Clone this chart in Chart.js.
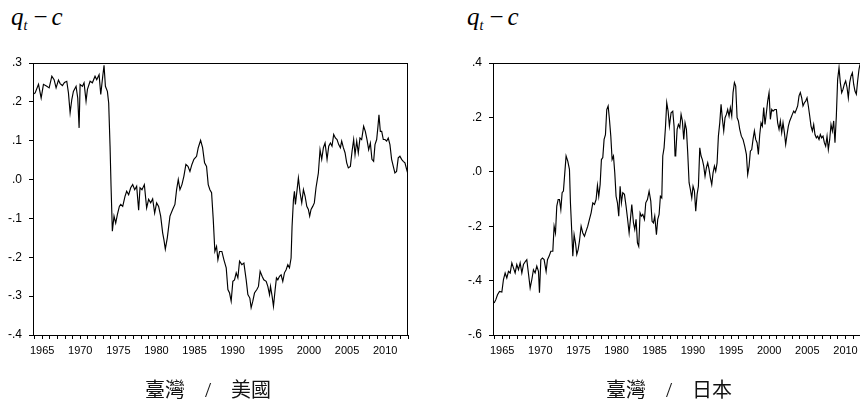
<!DOCTYPE html>
<html>
<head>
<meta charset="utf-8">
<script src="https://cdn.jsdelivr.net/npm/chart.js@4.4.0/dist/chart.umd.min.js"></script>
<style>
html, body { margin: 0; padding: 0; background: #fff; overflow: hidden; }
#wrap { position: relative; width: 860px; height: 403px; }
canvas { position: absolute; top: 0; }
.ttl { position: absolute; top: 4px; font: 25px "Liberation Serif", "Times New Roman", serif; line-height: 25px; white-space: nowrap; color: #000; }
.ttl i { font-style: italic; }
.ttl sub { font-size: 14px; vertical-align: -5px; line-height: 0; }
.ttl .m { margin: 0 4px 0 6px; }
.cap { position: absolute; top: 374px; width: 300px; text-align: center; font: 20px "Noto Sans CJK TC", sans-serif; color: #111; white-space: pre; }
.cap .s { font-family: "Liberation Serif", serif; font-size: 22px; }
</style>
</head>
<body>
<div id="wrap">
  <div class="ttl" style="left:11px"><i>q</i><sub><i>t</i></sub><span class="m">−</span><i>c</i></div>
  <div class="ttl" style="left:467px"><i>q</i><sub><i>t</i></sub><span class="m">−</span><i>c</i></div>
  <canvas id="us" width="430" height="403" style="left:0"></canvas>
  <canvas id="jp" width="430" height="403" style="left:430px"></canvas>
  <div class="cap" style="left:58px">臺灣　<span class="s">/</span>　美國</div>
  <div class="cap" style="left:519px">臺灣　<span class="s">/</span>　日本</div>
</div>
<script>
// 臺灣/美國
var usYears = [1963.86,1964.08,1964.52,1964.87,1965.17,1965.61,1965.92,1966.27,1966.57,1966.83,
  1967.14,1967.36,1967.66,1967.93,1968.23,1968.45,1968.67,1968.89,1969.10,1969.45,
  1969.67,1969.85,1969.98,1970.28,1970.50,1970.76,1970.94,1971.29,1971.59,1971.94,
  1972.16,1972.47,1972.69,1972.95,1973.12,1973.30,1973.56,1973.73,1973.91,1974.04,
  1974.21,1974.43,1974.65,1974.87,1975.13,1975.31,1975.57,1975.87,1976.09,1976.35,
  1976.62,1976.88,1977.14,1977.40,1977.66,1977.84,1978.10,1978.41,1978.71,1978.97,
  1979.24,1979.50,1979.76,1980.02,1980.28,1980.55,1980.81,1980.98,1981.16,1981.42,
  1981.77,1982.12,1982.42,1982.64,1982.86,1983.08,1983.34,1983.60,1983.86,1984.13,
  1984.39,1984.65,1984.91,1985.26,1985.48,1985.79,1986.05,1986.31,1986.57,1986.79,
  1987.01,1987.23,1987.45,1987.66,1987.88,
  1988.06,1988.28,1988.58,1988.84,1989.15,1989.37,1989.59,1989.80,1990.02,1990.24,
  1990.46,1990.68,1990.90,1991.20,1991.47,1991.77,1991.99,1992.25,1992.42,1992.64,
  1992.86,1993.17,1993.38,1993.60,1993.86,1994.08,1994.39,1994.61,1994.83,1994.96,
  1995.17,1995.35,1995.57,1995.74,1995.92,1996.14,1996.35,1996.57,1996.79,1997.01,
  1997.23,1997.45,1997.66,1997.79,1997.97,1998.10,1998.23,1998.45,1998.62,1998.84,
  1999.06,1999.28,1999.50,1999.72,1999.93,2000.10,2000.28,2000.50,2000.71,2000.93,
  2001.07,2001.24,2001.46,2001.68,2001.90,2002.12,2002.38,2002.60,2002.82,2003.03,
  2003.25,2003.47,2003.69,2003.91,2004.13,2004.30,2004.52,2004.74,2004.96,2005.17,
  2005.44,2005.66,2005.87,2006.05,2006.27,2006.48,2006.70,2006.92,2007.18,2007.40,
  2007.62,2007.84,2008.06,2008.27,2008.49,2008.67,2008.89,2009.06,2009.19,2009.37,
  2009.55,2009.76,2009.98,2010.20,2010.41,2010.63,2010.85,2011.07,2011.28,2011.50,
  2011.72,2011.94,2012.16,2012.38,2012.60,2012.82,2012.95];
var usValues = [.22,.223,.245,.21,.245,.24,.236,.266,.257,.236,
  .256,.247,.242,.25,.253,.223,.172,.206,.227,.24,
  .21,.133,.245,.24,.249,.202,.232,.253,.249,.266,
  .257,.27,.219,.266,.294,.24,.227,.197,.086,-.017,
  -.133,-.094,-.112,-.09,-.069,-.064,-.069,-.043,-.03,-.039,
  -.021,-.013,-.026,-.017,-.079,-.021,-.026,-.013,-.073,-.051,
  -.06,-.05,-.086,-.06,-.069,-.094,-.137,-.155,-.179,-.15,
  -.094,-.077,-.064,-.026,0.0,-.026,-.013,.009,.039,.034,
  .021,.039,.052,.06,.082,.101,.082,.043,.034,-.013,
  -.026,-.034,-.103,-.185,-.172,
  -.206,-.185,-.185,-.206,-.227,-.283,-.292,-.313,-.262,-.258,
  -.24,-.253,-.21,-.219,-.215,-.258,-.296,-.305,-.33,-.313,
  -.292,-.283,-.275,-.236,-.249,-.258,-.262,-.275,-.296,-.275,
  -.30,-.326,-.283,-.253,-.258,-.249,-.245,-.262,-.24,-.232,
  -.219,-.227,-.202,-.12,-.052,-.03,-.064,-.026,.004,-.034,
  -.06,-.026,-.043,-.069,-.077,-.094,-.077,-.069,-.06,-.021,
  -.004,.017,.077,.052,.082,.094,.052,.086,.094,.086,
  .116,.107,.103,.09,.082,.099,.082,.069,.043,.03,
  .034,.073,.103,.064,.099,.069,.107,.103,.137,.124,
  .103,.077,.094,.052,.047,.09,.103,.137,.167,.124,
  .124,.103,.103,.099,.107,.09,.052,.034,.017,.021,
  .056,.06,.052,.047,.043,.026,.017];

// 臺灣/日本
var jpYears = [1963.95,1964.17,1964.39,1964.65,1964.96,1965.17,1965.39,1965.61,1965.83,1966.05,
  1966.27,1966.48,1966.70,1966.92,1967.14,1967.36,1967.58,1967.79,1968.06,1968.23,
  1968.49,1968.67,1968.89,1969.10,1969.32,1969.54,1969.76,1969.89,1970.07,1970.28,
  1970.50,1970.76,1970.94,1971.16,1971.38,1971.64,1971.81,1971.99,1972.16,1972.34,
  1972.51,1972.69,1972.86,1973.03,1973.21,1973.38,1973.60,1973.82,1973.95,1974.13,
  1974.26,1974.43,1974.61,1974.78,1974.96,1975.13,1975.35,1975.57,1975.79,1976.00,
  1976.22,1976.44,1976.66,1976.88,1977.10,1977.31,1977.49,1977.66,1977.84,1978.01,
  1978.19,1978.36,1978.54,1978.71,1978.89,1979.06,1979.24,1979.41,1979.59,1979.76,
  1979.93,1980.11,1980.28,1980.46,1980.63,1980.81,1981.03,1981.24,1981.42,1981.64,
  1981.81,1981.99,1982.21,1982.38,1982.55,1982.73,1982.90,1983.08,1983.25,1983.43,
  1983.65,1983.82,1984.04,1984.26,1984.48,1984.65,1984.83,1985.00,1985.22,1985.39,
  1985.57,1985.74,1985.92,1986.05,1986.22,1986.40,1986.57,1986.75,1986.92,1987.14,
  1987.36,1987.53,1987.66,
  1987.75,1987.93,1988.10,1988.28,1988.45,1988.62,1988.80,1988.97,1989.15,1989.32,
  1989.50,1989.67,1989.85,1990.02,1990.20,1990.37,1990.55,1990.72,1990.90,1991.07,
  1991.24,1991.42,1991.59,1991.77,1991.94,1992.12,1992.29,1992.47,1992.64,1992.82,
  1992.99,1993.17,1993.34,1993.52,1993.69,1993.87,1994.04,1994.21,1994.39,1994.56,
  1994.74,1994.91,1995.09,1995.26,1995.44,1995.61,1995.79,1995.96,1996.14,1996.35,
  1996.57,1996.79,1997.01,1997.18,1997.36,1997.53,1997.71,1997.88,1998.06,1998.23,
  1998.41,1998.58,1998.76,1998.93,1999.10,1999.28,1999.45,1999.63,1999.80,1999.98,
  2000.15,2000.33,2000.50,2000.72,2000.94,2001.11,2001.29,2001.46,2001.64,2001.81,
  2001.99,2002.16,2002.34,2002.51,2002.69,2002.86,2003.03,2003.21,2003.38,2003.56,
  2003.73,2003.91,2004.08,2004.26,2004.43,2004.61,2004.78,2004.96,2005.13,2005.31,
  2005.48,2005.66,2005.83,2006.00,2006.18,2006.35,2006.53,2006.70,2006.88,2007.05,
  2007.23,2007.40,2007.58,2007.75,2007.93,2008.10,2008.28,2008.45,2008.62,2008.80,
  2008.97,2009.15,2009.32,2009.50,2009.67,2009.85,2010.02,2010.20,2010.37,2010.55,
  2010.72,2010.90,2011.07,2011.24,2011.42,2011.59,2011.77,2011.90];
var jpValues = [-.482,-.47,-.452,-.44,-.442,-.396,-.372,-.39,-.366,-.372,
  -.335,-.353,-.372,-.341,-.36,-.335,-.372,-.341,-.329,-.323,
  -.384,-.427,-.396,-.36,-.372,-.347,-.366,-.445,-.323,-.317,
  -.323,-.366,-.323,-.31,-.292,-.292,-.2,-.225,-.126,-.102,
  -.102,-.139,-.077,-.071,-.004,.058,.039,.009,-.114,-.225,
  -.31,-.231,-.261,-.304,-.286,-.255,-.2,-.225,-.237,-.218,
  -.2,-.175,-.151,-.114,-.12,-.102,-.05,-.09,-.047,.045,
  .052,.119,.137,.229,.242,.193,.131,.045,.058,-.004,
  -.09,-.114,-.163,-.053,-.114,-.077,-.083,-.126,-.169,-.225,
  -.175,-.12,-.188,-.212,-.175,-.261,-.274,-.151,-.163,-.157,
  -.175,-.114,-.102,-.071,-.108,-.182,-.188,-.163,-.231,-.175,
  -.157,-.09,-.096,.058,.088,.162,.254,.223,.168,.217,
  .223,.168,.058,
  .064,.156,.174,.162,.211,.187,.119,.18,.156,.07,
  -.04,-.065,-.096,-.053,-.071,-.145,-.083,-.053,.088,.058,
  .045,.021,-.016,.015,.033,.009,-.022,-.047,-.004,.021,
  .002,.033,.131,.18,.248,.193,.15,.199,.211,.229,
  .205,.236,.205,.291,.328,.315,.199,.187,.156,.131,
  .119,.094,.064,-.01,.021,.076,.082,.119,.15,.119,
  .107,.064,.137,.18,.168,.236,.174,.217,.26,.291,
  .193,.229,.223,.229,.229,.18,.156,.187,.144,.18,
  .144,.101,.137,.168,.187,.199,.211,.223,.217,.229,
  .242,.279,.291,.272,.242,.254,.26,.272,.242,.205,
  .168,.15,.174,.137,.125,.131,.119,.137,.125,.131,
  .107,.094,.131,.082,.119,.174,.15,.187,.107,.205,
  .34,.383,.328,.291,.303,.322,.334,.31,.272,.328,
  .352,.364,.322,.297,.285,.334,.377,.395];

var labelYears = [1965, 1970, 1975, 1980, 1985, 1990, 1995, 2000, 2005, 2010];
var usTicks = [-0.4, -0.3, -0.2, -0.1, 0.0, 0.1, 0.2, 0.3];
var jpTicks = [-0.6, -0.4, -0.2, 0.0, 0.2, 0.4];

function fmt(v) {
  var s = v.toFixed(1);
  return s.replace('0.', '.');
}

// top / right edges of the plot box
var frame = {
  id: 'frame',
  afterDraw: function(chart, args, o) {
    var a = chart.chartArea, c = chart.ctx;
    var t = Math.round(a.top) + 0.5, r = Math.round(a.right) - 0.5;
    c.save();
    c.strokeStyle = '#000';
    c.lineWidth = 1;
    c.beginPath();
    c.moveTo(a.left, t);
    c.lineTo(a.right, t);
    if (o.right) { c.moveTo(r, t); c.lineTo(r, a.bottom); }
    c.stroke();
    c.restore();
  }
};

function makeChart(id, years, values, yTicks, xMin, xMax, pad, rightEdge) {
  var pts = years.map(function(y, i) { return { x: y, y: values[i] }; });
  return new Chart(document.getElementById(id), {
    type: 'line',
    data: { datasets: [{ data: pts, borderColor: '#000', borderWidth: 1.15, pointRadius: 0, tension: 0, fill: false }] },
    options: {
      responsive: false,
      animation: false,
      layout: { padding: pad },
      plugins: { legend: { display: false }, tooltip: { enabled: false }, frame: { right: rightEdge } },
      scales: {
        x: {
          type: 'linear', min: xMin, max: xMax,
          afterFit: function(s) { s.height = 20; },
          afterBuildTicks: function(s) {
            var t = [];
            for (var y = Math.ceil(xMin); y <= xMax; y++) t.push({ value: y });
            s.ticks = t;
          },
          grid: { drawOnChartArea: false, drawTicks: true, tickLength: 4, color: '#000' },
          border: { display: true, color: '#000' },
          ticks: {
            autoSkip: false, maxRotation: 0, padding: 5, color: '#000',
            font: { family: '"Liberation Sans Narrow", "Liberation Sans", Arial', size: 11 },
            callback: function(v) { return labelYears.indexOf(v) >= 0 ? String(v) : ''; }
          }
        },
        y: {
          min: yTicks[0], max: yTicks[yTicks.length - 1],
          afterFit: function(s) { s.width = 33; },
          afterBuildTicks: function(s) { s.ticks = yTicks.map(function(v) { return { value: v }; }); },
          grid: { drawOnChartArea: false, drawTicks: true, tickLength: 4, color: '#000' },
          border: { display: true, color: '#000' },
          ticks: {
            padding: 7, color: '#000',
            font: { family: '"Liberation Sans", Arial', size: 12 },
            callback: function(v) { return fmt(v); }
          }
        }
      }
    },
    plugins: [frame]
  });
}

makeChart('us', usYears, usValues, usTicks, 1963.8, 2013.0, { left: 0, top: 63, right: 22, bottom: 48 }, true);
makeChart('jp', jpYears, jpValues, jpTicks, 1963.8, 2011.9, { left: 30, top: 63, right: 0, bottom: 48 }, false);
</script>
</body>
</html>
